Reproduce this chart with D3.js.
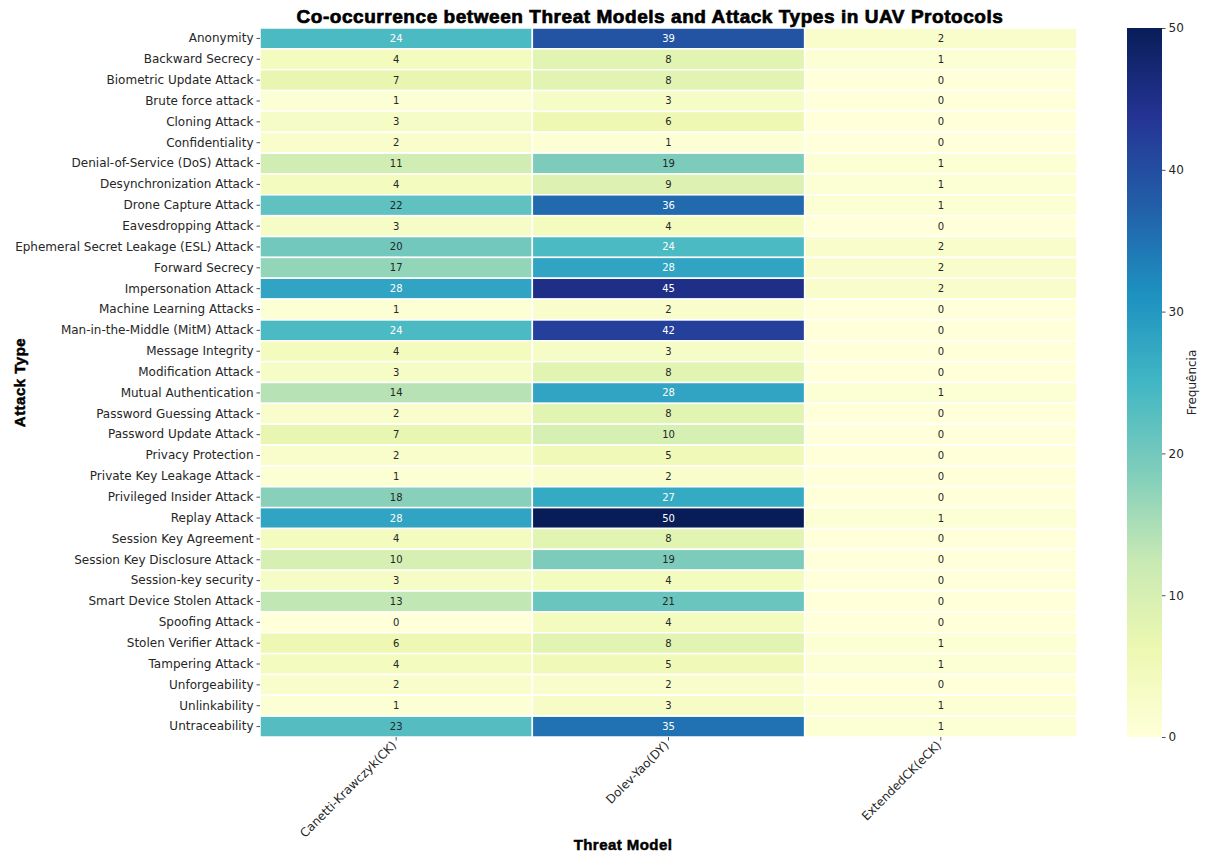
<!DOCTYPE html>
<html>
<head>
<meta charset="utf-8">
<script src="https://cdn.jsdelivr.net/npm/d3@7"></script>
<style>
  body { margin: 0; background: #fff; }
  svg { display: block; }
</style>
</head>
<body>
<svg id="chart" width="1206" height="852"></svg>
<script>
// Attack types (rows) and threat models (columns)
const attackTypes = [
  "Anonymity", "Backward Secrecy", "Biometric Update Attack", "Brute force attack",
  "Cloning Attack", "Confidentiality", "Denial-of-Service (DoS) Attack",
  "Desynchronization Attack", "Drone Capture Attack", "Eavesdropping Attack",
  "Ephemeral Secret Leakage (ESL) Attack", "Forward Secrecy", "Impersonation Attack",
  "Machine Learning Attacks", "Man-in-the-Middle (MitM) Attack", "Message Integrity",
  "Modification Attack", "Mutual Authentication", "Password Guessing Attack",
  "Password Update Attack", "Privacy Protection", "Private Key Leakage Attack",
  "Privileged Insider Attack", "Replay Attack", "Session Key Agreement",
  "Session Key Disclosure Attack", "Session-key security", "Smart Device Stolen Attack",
  "Spoofing Attack", "Stolen Verifier Attack", "Tampering Attack", "Unforgeability",
  "Unlinkability", "Untraceability"
];
const threatModels = ["Canetti-Krawczyk(CK)", "Dolev-Yao(DY)", "ExtendedCK(eCK)"];

// Co-occurrence counts per threat model, in row order
const ckCounts  = [24, 4, 7, 1, 3, 2, 11, 4, 22, 3, 20, 17, 28, 1, 24, 4, 3, 14, 2, 7, 2, 1, 18, 28, 4, 10, 3, 13, 0, 6, 4, 2, 1, 23];
const dyCounts  = [39, 8, 8, 3, 6, 1, 19, 9, 36, 4, 24, 28, 45, 2, 42, 3, 8, 28, 8, 10, 5, 2, 27, 50, 8, 19, 4, 21, 4, 8, 5, 2, 3, 35];
const eckCounts = [2, 1, 0, 0, 0, 0, 1, 1, 1, 0, 2, 2, 2, 0, 0, 0, 0, 1, 0, 0, 0, 0, 0, 1, 0, 0, 0, 0, 0, 1, 1, 0, 1, 1];
const seriesCounts = [ckCounts, dyCounts, eckCounts];

const colorbarTicks = [0, 10, 20, 30, 40, 50];

// YlGnBu colour ramp, linearly interpolated between its nine anchor colours
const ylgnbu = ["#ffffd9", "#edf8b1", "#c7e9b4", "#7fcdbb", "#41b6c4", "#1d91c0", "#225ea8", "#253494", "#081d58"];
const ramp = d3.piecewise(d3.interpolateRgb, ylgnbu);
const vmin = 0, vmax = 50;
const color = v => ramp((v - vmin) / (vmax - vmin));

function luminance(c) {
  const rgb = d3.rgb(c);
  const f = x => { x /= 255; return x <= 0.03928 ? x / 12.92 : Math.pow((x + 0.055) / 1.055, 2.4); };
  return 0.2126 * f(rgb.r) + 0.7152 * f(rgb.g) + 0.0722 * f(rgb.b);
}

const cells = [];
attackTypes.forEach((a, i) => {
  threatModels.forEach((m, j) => {
    cells.push({ attack: a, model: m, value: seriesCounts[j][i] });
  });
});

const svg = d3.select("#chart");
const font = "DejaVu Sans, sans-serif";
const heavyFont = "Liberation Sans, Arial, sans-serif";
const textColor = "#262626";

const plotLeft = 260, plotRight = 1077, plotTop = 28, plotBottom = 737;

const x = d3.scaleBand().domain(threatModels).range([plotLeft, plotRight]);
const y = d3.scaleBand().domain(attackTypes).range([plotTop, plotBottom]);

// Heatmap cells
svg.append("g").selectAll("rect").data(cells).join("rect")
  .attr("x", d => x(d.model))
  .attr("y", d => y(d.attack))
  .attr("width", x.bandwidth())
  .attr("height", y.bandwidth())
  .attr("fill", d => color(d.value))
  .attr("stroke", "#fff")
  .attr("stroke-width", 1.5);

// Cell annotations
svg.append("g").selectAll("text").data(cells).join("text")
  .attr("x", d => x(d.model) + x.bandwidth() / 2)
  .attr("y", d => y(d.attack) + y.bandwidth() / 2)
  .attr("text-anchor", "middle")
  .attr("dominant-baseline", "central")
  .attr("font-family", font)
  .attr("font-size", 10)
  .attr("fill", d => luminance(color(d.value)) > 0.408 ? textColor : "#ffffff")
  .text(d => d.value);

// Y axis
const yAxis = svg.append("g")
  .attr("transform", `translate(${plotLeft},0)`)
  .call(d3.axisLeft(y).tickSize(3.5).tickPadding(3));
yAxis.select(".domain").remove();
yAxis.selectAll("line").attr("stroke", textColor).attr("stroke-width", 0.8);
yAxis.selectAll("text").attr("font-family", font).attr("font-size", 12).attr("fill", textColor);

// X axis
const xAxis = svg.append("g")
  .attr("transform", `translate(0,${plotBottom})`)
  .call(d3.axisBottom(x).tickSize(3.5).tickPadding(3));
xAxis.select(".domain").remove();
xAxis.selectAll("line").attr("stroke", textColor).attr("stroke-width", 0.8);
xAxis.selectAll("text")
  .attr("font-family", font).attr("font-size", 12).attr("fill", textColor)
  .attr("text-anchor", "end")
  .attr("dy", null)
  .attr("y", 0)
  .attr("transform", "translate(1,9) rotate(-45)");

// Title and axis titles (heavy sans)
function heavyText(sel, size, spacing, strokeW) {
  return sel
    .attr("font-family", heavyFont)
    .attr("font-weight", "bold")
    .attr("font-size", size)
    .attr("letter-spacing", spacing)
    .attr("fill", "#000")
    .attr("stroke", "#000")
    .attr("stroke-width", strokeW)
    .attr("text-anchor", "middle");
}

heavyText(svg.append("text"), 19, 0.55, 0.7)
  .attr("x", 650).attr("y", 23)
  .text("Co-occurrence between Threat Models and Attack Types in UAV Protocols");

heavyText(svg.append("text"), 15, 0.45, 0.5)
  .attr("x", 623).attr("y", 850)
  .text("Threat Model");

heavyText(svg.append("text"), 15, 0.5, 0.5)
  .attr("transform", `translate(25,${(plotTop + plotBottom) / 2}) rotate(-90)`)
  .text("Attack Type");

// Colour bar
const cbX = 1127, cbW = 35;
const cbScale = d3.scaleLinear().domain([vmin, vmax]).range([plotBottom, plotTop]);
const defs = svg.append("defs");
const grad = defs.append("linearGradient")
  .attr("id", "cbGrad").attr("x1", 0).attr("y1", 1).attr("x2", 0).attr("y2", 0);
d3.range(0, 1.0001, 0.025).forEach(t => {
  grad.append("stop").attr("offset", t).attr("stop-color", ramp(t));
});
svg.append("rect")
  .attr("x", cbX).attr("y", plotTop)
  .attr("width", cbW).attr("height", plotBottom - plotTop)
  .attr("fill", "url(#cbGrad)");

const cbAxis = svg.append("g")
  .attr("transform", `translate(${cbX + cbW},0)`)
  .call(d3.axisRight(cbScale).tickValues(colorbarTicks).tickSize(3.5).tickPadding(3));
cbAxis.select(".domain").remove();
cbAxis.selectAll("line").attr("stroke", textColor).attr("stroke-width", 0.8);
cbAxis.selectAll("text").attr("font-family", font).attr("font-size", 12).attr("fill", textColor);

svg.append("text")
  .attr("transform", `translate(1196,${(plotTop + plotBottom) / 2}) rotate(-90)`)
  .attr("text-anchor", "middle")
  .attr("font-family", font)
  .attr("font-size", 12)
  .attr("fill", textColor)
  .text("Frequência");
</script>
</body>
</html>
